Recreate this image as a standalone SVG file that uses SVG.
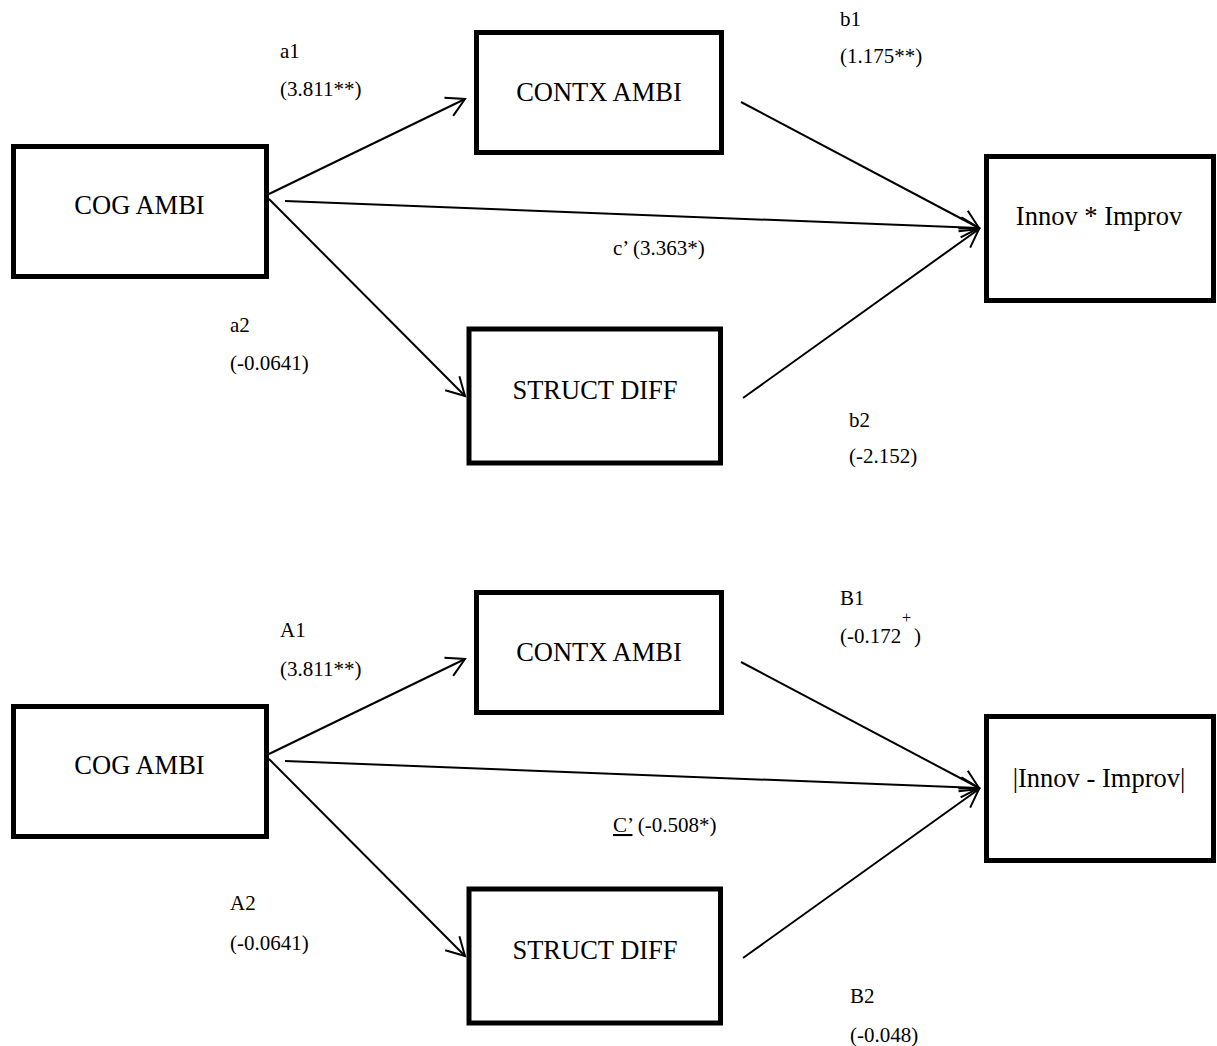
<svg xmlns="http://www.w3.org/2000/svg" width="1217" height="1046" viewBox="0 0 1217 1046">
<style>
.box{fill:#fff;stroke:#000;stroke-width:5}
.nt{font-family:"Liberation Serif","Times New Roman",serif;font-size:26.5px;fill:#000;text-anchor:middle}
.lb{font-family:"Liberation Serif","Times New Roman",serif;font-size:21px;fill:#000}
.ln{stroke:#000;stroke-width:2;fill:none;marker-end:url(#ah)}
</style>
<defs>
<marker id="ah" markerUnits="userSpaceOnUse" markerWidth="30" markerHeight="30" refX="0" refY="0" viewBox="-22 -15 30 30" orient="auto">
<path d="M -18 -10 L 0 0 L -18 10" fill="none" stroke="#000" stroke-width="2"/>
</marker>
</defs>
<rect width="1217" height="1046" fill="#fff"/>
<g id="connectors">
<line class="ln" x1="269" y1="194" x2="465" y2="99"/>
<line class="ln" x1="269" y1="199" x2="465" y2="396"/>
<line class="ln" x1="285" y1="201" x2="979" y2="228"/>
<line class="ln" x1="741" y1="102" x2="979" y2="228"/>
<line class="ln" x1="743" y1="398" x2="979" y2="229"/>
<line class="ln" x1="269" y1="754" x2="465" y2="659"/>
<line class="ln" x1="269" y1="759" x2="465" y2="956"/>
<line class="ln" x1="285" y1="761" x2="979" y2="788"/>
<line class="ln" x1="741" y1="662" x2="979" y2="788"/>
<line class="ln" x1="743" y1="958" x2="979" y2="789"/>
</g>
<g id="top-cog"><rect class="box" x="13.5" y="146.5" width="253" height="130"/><text class="nt" x="139.5" y="214">COG AMBI</text></g>
<g id="top-contx"><rect class="box" x="476.5" y="32.5" width="245" height="120"/><text class="nt" x="599" y="101">CONTX AMBI</text></g>
<g id="top-struct"><rect class="box" x="469" y="329" width="251.5" height="134"/><text class="nt" x="595" y="399">STRUCT DIFF</text></g>
<g id="top-innov"><rect class="box" x="986.5" y="156.5" width="227" height="144"/><text class="nt" x="1099" y="225">Innov * Improv</text></g>
<g id="bot-cog"><rect class="box" x="13.5" y="706.5" width="253" height="130"/><text class="nt" x="139.5" y="774">COG AMBI</text></g>
<g id="bot-contx"><rect class="box" x="476.5" y="592.5" width="245" height="120"/><text class="nt" x="599" y="661">CONTX AMBI</text></g>
<g id="bot-struct"><rect class="box" x="469" y="889" width="251.5" height="134"/><text class="nt" x="595" y="959">STRUCT DIFF</text></g>
<g id="bot-innov"><rect class="box" x="986.5" y="716.5" width="227" height="144"/><text class="nt" x="1099" y="787">|Innov - Improv|</text></g>
<g id="labels">
<text class="lb" x="280" y="58">a1</text>
<text class="lb" x="280" y="96">(3.811**)</text>
<text class="lb" x="840" y="26">b1</text>
<text class="lb" x="840" y="63">(1.175**)</text>
<text class="lb" x="613" y="255">c’ (3.363*)</text>
<text class="lb" x="230" y="331.5">a2</text>
<text class="lb" x="230" y="370">(-0.0641)</text>
<text class="lb" x="849" y="427">b2</text>
<text class="lb" x="849" y="463">(-2.152)</text>
<text class="lb" x="280" y="637">A1</text>
<text class="lb" x="280" y="676">(3.811**)</text>
<text class="lb" x="840" y="605">B1</text>
<text class="lb" x="840" y="643">(-0.172<tspan x="902" y="623" font-size="16">+</tspan><tspan x="914" y="643">)</tspan></text>
<text class="lb" x="613" y="832"><tspan text-decoration="underline">C’</tspan> (-0.508*)</text>
<text class="lb" x="230" y="910">A2</text>
<text class="lb" x="230" y="950">(-0.0641)</text>
<text class="lb" x="850" y="1003">B2</text>
<text class="lb" x="850" y="1042">(-0.048)</text>
</g>
</svg>
